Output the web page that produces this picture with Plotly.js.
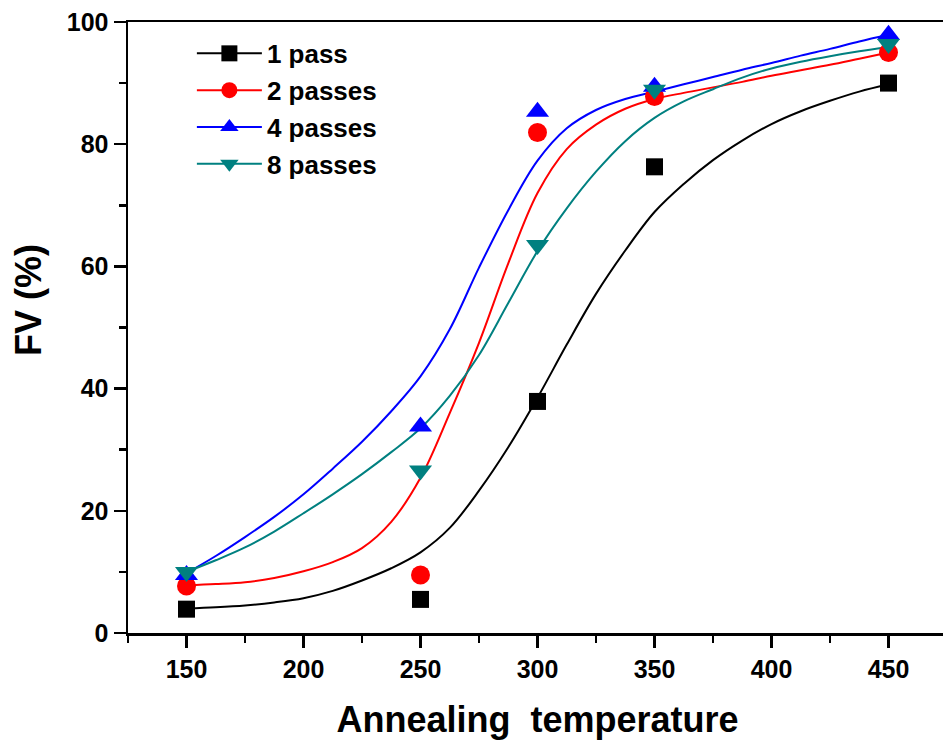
<!DOCTYPE html>
<html>
<head>
<meta charset="utf-8">
<script src="https://cdn.plot.ly/plotly-3.0.1.min.js"></script>
<style>
  html, body { margin: 0; padding: 0; overflow: hidden; background: #fff; }
  #chart { width: 960px; height: 749px; }
</style>
</head>
<body>
<div id="chart"></div>
<script>
// Measured points
const temps = [150, 250, 300, 350, 450];
const fv1 = [3.9, 5.5, 37.9, 76.3, 90.0];
const fv2 = [7.7, 9.5, 81.9, 87.8, 95.0];
const fv4 = [9.5, 33.8, 85.3, 89.4, 97.9];
const fv8 = [10.0, 26.6, 63.5, 88.9, 96.4];

// Fitted curves
const fitT = [150, 162.5, 175, 187.5, 200, 212.5, 225, 237.5, 250, 262.5, 275, 287.5, 300,
              312.5, 325, 337.5, 350, 362.5, 375, 387.5, 400, 412.5, 425, 437.5, 450];
const fit1 = [4.0, 4.2, 4.5, 5.0, 5.7, 6.9, 8.6, 10.6, 13.2, 17.2, 23.3, 30.4, 38.5,
              47.2, 55.5, 62.6, 68.9, 73.5, 77.4, 80.6, 83.3, 85.4, 87.1, 88.6, 89.8];
const fit2 = [7.8, 8.0, 8.3, 9.0, 10.1, 11.6, 13.9, 18.2, 25.4, 36.0, 47.5, 60.5, 72.0,
              79.2, 83.2, 85.8, 87.4, 88.4, 89.3, 90.2, 91.2, 92.1, 93.0, 94.0, 95.0];
const fit4 = [9.8, 12.6, 15.7, 19.0, 22.7, 26.9, 31.3, 36.3, 42.0, 49.7, 59.8, 69.2, 77.3,
              82.6, 85.6, 87.4, 88.6, 89.8, 91.0, 92.2, 93.3, 94.5, 95.6, 96.8, 97.9];
const fit8 = [10.0, 11.9, 14.0, 16.6, 19.6, 22.7, 26.0, 29.6, 33.5, 38.8, 45.5, 54.0, 62.5,
              69.5, 75.5, 80.5, 84.3, 87.0, 89.0, 90.9, 92.4, 93.5, 94.4, 95.2, 95.9];

const names = ['1 pass', '2 passes', '4 passes', '8 passes'];
const colors = ['#000000', '#FF0000', '#0000FF', '#008080'];
const symbols = ['square', 'circle', 'triangle-up', 'triangle-down'];
const sizes = [17, 19, 20, 20];

const pts = [fv1, fv2, fv4, fv8];
const fits = [fit1, fit2, fit4, fit8];

const FONT = 'Liberation Sans, Arial, Helvetica, sans-serif';

// isolate points with gaps so the legend shows line + marker while no connecting lines are drawn
function gapped(arr) {
  const out = [];
  arr.forEach((v, i) => { out.push(v); if (i < arr.length - 1) out.push(null); });
  return out;
}

const traces = [];
for (let i = 0; i < 4; i++) {
  traces.push({
    x: fitT, y: fits[i], type: 'scatter', mode: 'lines',
    line: { color: colors[i], width: 2, shape: 'spline', smoothing: 1 },
    legendgroup: 'g' + i, showlegend: false, hoverinfo: 'skip'
  });
}
for (let i = 0; i < 4; i++) {
  traces.push({
    x: gapped(temps), y: gapped(pts[i]), type: 'scatter', mode: 'lines+markers',
    connectgaps: false,
    name: names[i], legendgroup: 'g' + i,
    line: { color: colors[i], width: 2 },
    marker: { symbol: symbols[i], size: sizes[i], color: colors[i], line: { width: 0 } }
  });
}

const axisCommon = {
  showline: true, linecolor: '#000', linewidth: 2.5, mirror: true,
  ticks: 'outside', ticklen: 12, tickwidth: 2.5, tickcolor: '#000',
  showgrid: false, zeroline: false,
  tickfont: { family: FONT, size: 25, weight: 'bold', color: '#000' }
};

const layout = {
  width: 960, height: 749,
  margin: { l: 128, r: 13, t: 22, b: 116 },
  paper_bgcolor: '#fff', plot_bgcolor: '#fff',
  font: { family: FONT, color: '#000' },
  xaxis: Object.assign({}, axisCommon, {
    range: [125, 475], dtick: 50, tick0: 0,
    minor: { dtick: 25, ticks: 'outside', ticklen: 7, tickwidth: 2.5, tickcolor: '#000', showgrid: false },
    title: { text: 'Annealing\u00a0 temperature', font: { family: FONT, size: 36, weight: 'bold', color: '#000' }, standoff: 26 }
  }),
  yaxis: Object.assign({}, axisCommon, {
    range: [0, 100], dtick: 20, tick0: 0,
    minor: { dtick: 10, ticks: 'outside', ticklen: 7, tickwidth: 2.5, tickcolor: '#000', showgrid: false }
  }),
  annotations: [{
    text: 'FV (%)', xref: 'paper', yref: 'paper', x: -0.122, y: 0.545,
    xanchor: 'center', yanchor: 'middle', textangle: -90, showarrow: false,
    font: { family: FONT, size: 36, weight: 'bold', color: '#000' }
  }],
  legend: {
    x: 0.078, y: 0.987, xanchor: 'left', yanchor: 'top',
    itemwidth: 65,
    bgcolor: 'rgba(0,0,0,0)', borderwidth: 0, tracegroupgap: 0,
    font: { family: FONT, size: 26, weight: 'bold', color: '#000' }
  },
  showlegend: true
};

Plotly.newPlot('chart', traces, layout, { displayModeBar: false, staticPlot: true });
</script>
</body>
</html>
